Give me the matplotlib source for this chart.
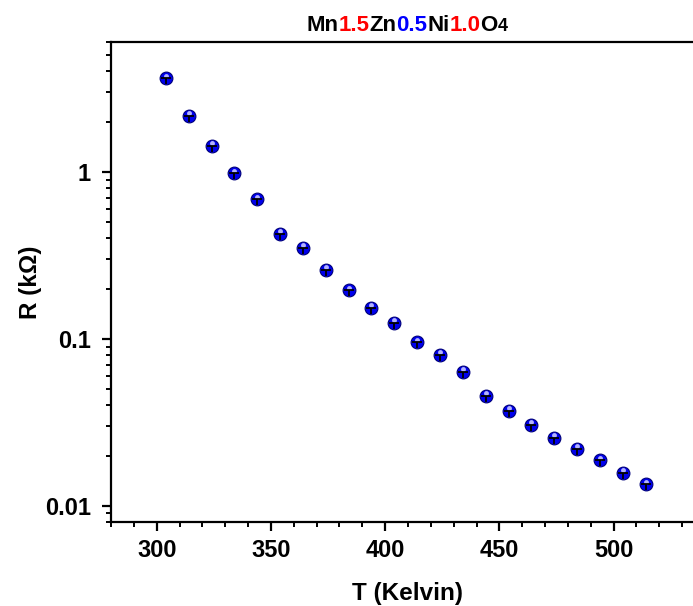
import matplotlib
matplotlib.use('Agg')
import matplotlib.pyplot as plt
import numpy as np
from matplotlib.path import Path
from matplotlib.ticker import FixedLocator, MultipleLocator, LogLocator, NullFormatter, FuncFormatter
from matplotlib import transforms

plt.rcParams['font.family'] = ['Liberation Sans', 'DejaVu Sans']
plt.rcParams['font.weight'] = 'bold'

# temperature (K) and resistance (kOhm)
T = [304, 314, 324, 334, 344, 354, 364, 374, 384, 394, 404,
     414, 424, 434, 444, 454, 464, 474, 484, 494, 504, 514]
R = [3.63, 2.16, 1.427, 0.980, 0.684, 0.424, 0.352, 0.2597, 0.1952, 0.1537, 0.125,
     0.0953, 0.0800, 0.0633, 0.0455, 0.0372, 0.0306, 0.0255, 0.0220, 0.01873, 0.01572, 0.01345]

title_parts = [('Mn', 'black'), ('1.5', 'red'), ('Zn', 'black'), ('0.5', 'blue'),
               ('Ni', 'black'), ('1.0', 'red'), ('O', 'black'), ('4', 'black')]

fig = plt.figure(figsize=(6.93, 6.06), dpi=100)
# right spine falls outside the picture, as in the original
ax = fig.add_axes([111/693, 84/606, 594/693, 480/606])

# sphere-like markers
ax.plot(T, R, 'o', ms=9.2, mfc='#0000ee', mec='#00007a', mew=0.8, zorder=3)
hl = transforms.offset_copy(ax.transData, fig=fig, x=0, y=2, units='points')
ax.plot(T, R, 'o', ms=3.5, mfc='#c8c8ff', mec='none', alpha=0.9, transform=hl, zorder=4)
# small error-bar glyph
tee = Path([(-1, 0), (1, 0), (0, 0), (0, -1.1)],
           [Path.MOVETO, Path.LINETO, Path.MOVETO, Path.LINETO])
ax.plot(T, R, ls='none', marker=tee, ms=8.5, mec='black', mew=1.3, zorder=5)

ax.set_yscale('log')
ax.set_xlim(280, 540)
ax.set_ylim(0.008, 6)

ax.xaxis.set_major_locator(MultipleLocator(50))
ax.xaxis.set_minor_locator(MultipleLocator(10))
ax.yaxis.set_major_locator(FixedLocator([0.01, 0.1, 1]))
ax.yaxis.set_major_formatter(FuncFormatter(lambda v, p: {0.01: '0.01', 0.1: '0.1', 1: '1'}.get(round(v, 3), '')))
ax.yaxis.set_minor_locator(LogLocator(base=10, subs=np.arange(2, 10)))
ax.yaxis.set_minor_formatter(NullFormatter())

for s in ['left', 'bottom', 'top']:
    ax.spines[s].set_linewidth(1.6)
ax.spines['right'].set_visible(False)
ax.tick_params(which='major', direction='out', length=6.5, width=1.6, labelsize=17, pad=6)
ax.tick_params(axis='y', which='major', pad=8)
ax.tick_params(which='minor', direction='out', length=3.6, width=1.4)
ax.tick_params(top=False, right=False)
for lab in ax.get_xticklabels() + ax.get_yticklabels():
    lab.set_fontweight('bold')

ax.set_xlabel('T (Kelvin)', fontsize=17.5, fontweight='bold', labelpad=14)
ax.set_ylabel('R (kΩ)', fontsize=17.5, fontweight='bold', labelpad=2)

# coloured chemical formula title
renderer = fig.canvas.get_renderer()
texts = []
for s, c in title_parts:
    size = 13 if s == '4' else 16
    t = fig.text(0, 0, s, color=c, fontsize=size, fontweight='bold', va='baseline')
    texts.append(t)
widths = [t.get_window_extent(renderer).width for t in texts]
x = 407 - sum(widths) / 2
for t, w in zip(texts, widths):
    t.set_transform(transforms.IdentityTransform())
    t.set_position((x, 606 - 31))
    x += w

fig.savefig('out.png', dpi=100)
